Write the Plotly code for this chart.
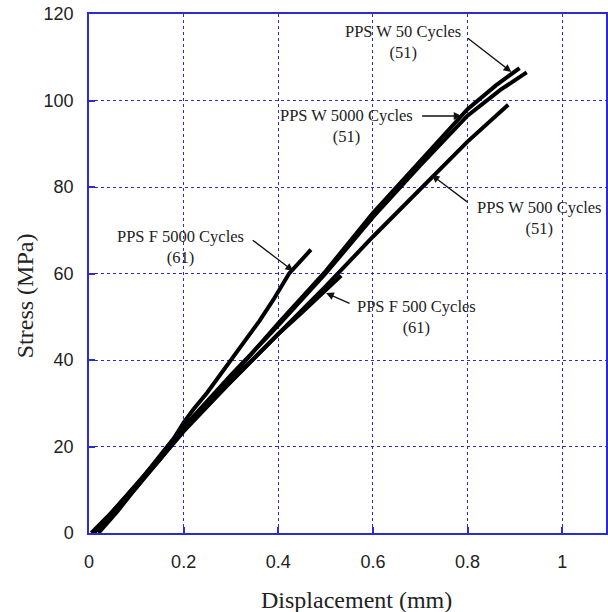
import plotly.graph_objects as go

# ---- data ----
w50_x = [0.01, 0.05, 0.10, 0.15, 0.20, 0.25, 0.30, 0.40, 0.50, 0.60, 0.70, 0.80, 0.86, 0.91]
w50_y = [0.0, 4.5, 10.5, 17.0, 24.0, 30.0, 36.0, 48.5, 60.5, 74.0, 86.0, 98.0, 103.5, 107.5]

w5000_x = [0.02, 0.06, 0.10, 0.15, 0.20, 0.25, 0.30, 0.40, 0.50, 0.60, 0.70, 0.80, 0.87, 0.925]
w5000_y = [0.0, 5.0, 10.5, 17.5, 24.5, 30.5, 36.5, 48.0, 60.0, 73.0, 85.0, 96.5, 102.5, 106.5]

w500_x = [0.01, 0.05, 0.10, 0.15, 0.20, 0.30, 0.40, 0.50, 0.60, 0.70, 0.80, 0.886]
w500_y = [0.0, 5.0, 11.0, 17.0, 23.5, 35.0, 46.0, 57.0, 68.5, 79.5, 90.5, 99.0]

f5000_x = [0.005, 0.05, 0.10, 0.15, 0.18, 0.20, 0.22, 0.25, 0.28, 0.30, 0.33, 0.36, 0.39, 0.423, 0.469]
f5000_y = [0.0, 5.0, 11.0, 18.0, 22.0, 25.5, 28.5, 32.5, 37.0, 40.0, 44.5, 49.0, 54.0, 60.0, 65.5]

f500_x = [0.01, 0.05, 0.10, 0.15, 0.20, 0.30, 0.40, 0.45, 0.50, 0.533]
f500_y = [0.0, 5.0, 11.0, 17.5, 24.0, 35.0, 46.0, 51.0, 56.0, 59.5]

x_ticks = [0, 0.2, 0.4, 0.6, 0.8, 1.0]
x_tick_labels = ["0", "0.2", "0.4", "0.6", "0.8", "1"]
y_ticks = [0, 20, 40, 60, 80, 100, 120]
y_tick_labels = ["0", "20", "40", "60", "80", "100", "120"]

labels = ["PPS W 50 Cycles<br>(51)", "PPS W 5000 Cycles<br>(51)", "PPS W 500 Cycles<br>(51)",
          "PPS F 5000 Cycles<br>(61)", "PPS F 500 Cycles<br>(61)"]

# ---- layout geometry ----
W, H = 608, 612
L, T, B = 89, 14, 533
XMAX = (W - L) / 475.0


def px2x(px):
    return (px - L) / 475.0


def px2y(py):
    return (B - py) / ((B - T) / 120.0)


fig = go.Figure()
for xs, ys in [(w50_x, w50_y), (w5000_x, w5000_y), (w500_x, w500_y), (f5000_x, f5000_y), (f500_x, f500_y)]:
    fig.add_trace(go.Scatter(x=xs, y=ys, mode="lines", line=dict(color="black", width=4),
                             showlegend=False, hoverinfo="skip"))

blue = "#2b2bd0"
serif = "Liberation Serif"
sans = "Liberation Sans"

# label texts: (center px x, center px y)
text_pos = [(404, 42), (347, 126), (541, 218), (181, 247), (418, 317)]
# arrows: (tail px, tip px)
arrows = [((468, 37), (513, 72)), ((422, 116), (463, 116)), ((470, 203), (433, 175)),
          ((252, 239), (294, 271)), ((352, 304), (327, 293))]

annotations = []
for lab, (tx, ty) in zip(labels, text_pos):
    annotations.append(dict(x=px2x(tx), y=px2y(ty), xref="x", yref="y", text=lab, showarrow=False,
                            font=dict(family=serif, size=16.5, color="#222"), align="center",
                            xanchor="center", yanchor="middle"))
for (t0, t1) in arrows:
    annotations.append(dict(x=px2x(t1[0]), y=px2y(t1[1]), xref="x", yref="y", text="",
                            showarrow=True, ax=t0[0] - t1[0], ay=t0[1] - t1[1],
                            arrowhead=2, arrowsize=1.2, arrowwidth=1.3, arrowcolor="#111"))

# axis titles placed at pixel positions
annotations.append(dict(x=(358 - L) / (W - L), y=(B - 600) / (B - T), xref="paper", yref="paper",
                        text="Displacement (mm)", showarrow=False, xanchor="center", yanchor="middle",
                        font=dict(family=serif, size=24, color="#222")))
annotations.append(dict(x=(25 - L) / (W - L), y=(B - 296) / (B - T), xref="paper", yref="paper",
                        text="Stress (MPa)", showarrow=False, textangle=-90, xanchor="center",
                        yanchor="middle", font=dict(family=serif, size=24, color="#222")))

fig.update_layout(
    width=W, height=H,
    margin=dict(l=L, r=0, t=T, b=H - B),
    paper_bgcolor="white", plot_bgcolor="white",
    annotations=annotations,
    xaxis=dict(range=[0, XMAX], tickvals=x_ticks, ticktext=x_tick_labels,
               showgrid=True, gridcolor=blue, griddash="dot", gridwidth=1.3,
               showline=True, linecolor=blue, linewidth=1.5, mirror=True,
               ticks="inside", ticklen=6, tickcolor=blue, tickwidth=1.5,
               ticklabelstandoff=12,
               tickfont=dict(family=sans, size=18, color="#222"),
               zeroline=False),
    yaxis=dict(range=[0, 120], tickvals=y_ticks, ticktext=y_tick_labels,
               showgrid=True, gridcolor=blue, griddash="dot", gridwidth=1.3,
               showline=True, linecolor=blue, linewidth=1.5, mirror=True,
               ticks="inside", ticklen=6, tickcolor=blue, tickwidth=1.5,
               ticklabelstandoff=10,
               tickfont=dict(family=sans, size=18, color="#222"),
               zeroline=False),
)

fig.write_html("out.html")
